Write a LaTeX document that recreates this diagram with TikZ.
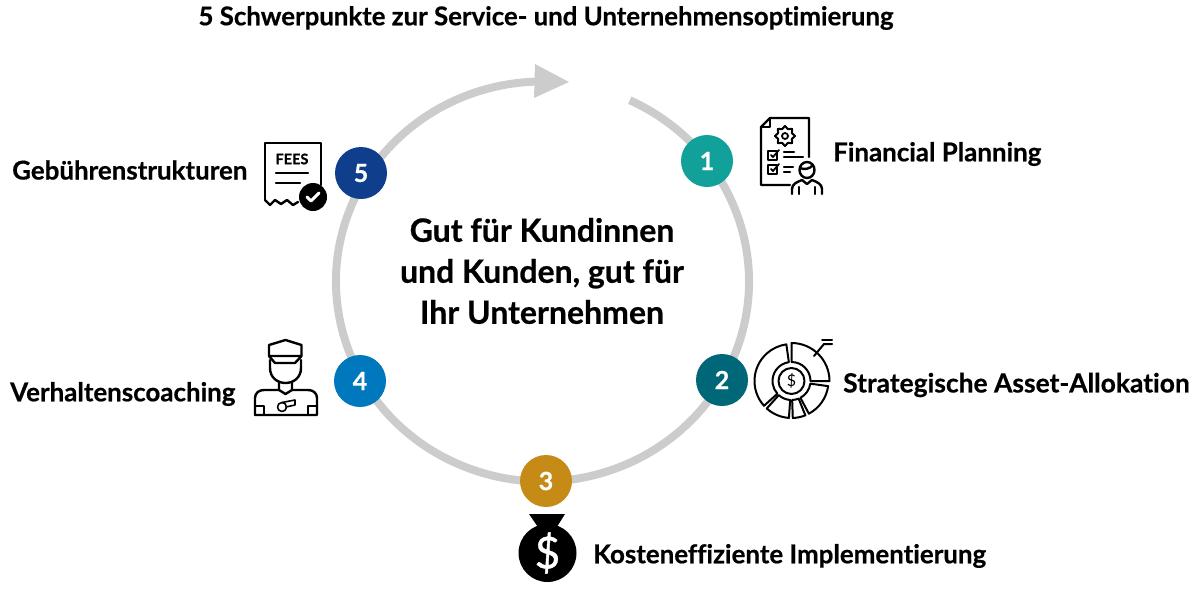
\documentclass[tikz,border=0pt]{standalone}
\usepackage{fontspec}
\setmainfont{Lato}[Ligatures=NoCommon, BoldFeatures={FakeBold=0.6}]
\newfontfamily\dollarfont{Lato}[FakeBold=1]
\newcommand{\pxfont}[1]{\fontsize{#1}{#1}\selectfont\bfseries}
\newcommand{\sectorpath}[4]{(#1:#3) -- (#1:#4) arc[start angle=#1, end angle=#2, radius=#4] -- (#2:#3) arc[start angle=#2, end angle=#1, radius=#3] -- cycle}
\definecolor{ringgray}{HTML}{CCCCCC}
\definecolor{stepteal}{HTML}{12A19A}
\definecolor{steppetrol}{HTML}{006778}
\definecolor{stepgold}{HTML}{C68B17}
\definecolor{stepblue}{HTML}{0078BE}
\definecolor{stepnavy}{HTML}{0F3E8C}
\tikzset{
    stepdot/.style={circle, minimum size=52pt, inner sep=0pt, text=white, font=\pxfont{25}},
    label/.style={anchor=west, inner sep=0pt, text=black, font=\pxfont{25.9}},
    icon/.style={line width=2.4pt, line join=round, line cap=round, black},
}
\begin{document}
\begin{tikzpicture}[x=1pt, y=-1pt]
    \useasboundingbox (0,0) rectangle (1200,600);

    % ring
    \draw[ringgray, line width=8pt] ([shift={(-65:206.5 and 200)}]542.5,281.5) arc[start angle=-65, end angle=268, x radius=206.5, y radius=200];
    \fill[ringgray] (535,64) -- (569,82) -- (534,98) -- cycle;

    \node[stepdot, fill=stepteal] (one) at (707,161) {1};
    \node[stepdot, fill=steppetrol] (two) at (722,380) {2};
    \node[stepdot, fill=stepgold] (three) at (546,481) {3};
    \node[stepdot, fill=stepblue] (four) at (360,381) {4};
    \node[stepdot, fill=stepnavy] (five) at (361,173) {5};

    \node[inner sep=0pt, font=\pxfont{25.8}] (title) at (546,18) {5 Schwerpunkte zur Service- und Unternehmensoptimierung};
    \node[inner sep=0pt, align=center, font=\fontsize{32}{41}\selectfont\bfseries] (middle) at (542,271) {Gut für Kundinnen\\und Kunden, gut für\\Ihr Unternehmen};

    \node[label] (planning) at (833,154) {Financial Planning};
    \node[label, font=\pxfont{26.4}] (asset) at (843,385) {Strategische Asset-Allokation};
    \node[label] (kosten) at (593,556) {Kosteneffiziente Implementierung};
    \node[label] (coaching) at (10,394) {Verhaltenscoaching};
    \node[label] (fees) at (12,170) {Gebührenstrukturen};

    % planning icon
    \draw[icon] (790,185) -- (761,185) -- (761,127) -- (770,118) -- (809,118) -- (809,157);
    \draw[icon] (770,118) -- (770,127) -- (761,127);
    \begin{scope}[shift={(785,136)}]
        \draw[icon, line width=2pt] (0:10) \foreach \a in {22.5,45,...,337.5} {-- (\a:{mod(\a,45)==0 ? 10 : 7.5})} -- cycle;
        \draw[icon, line width=1.8pt] (0,0) circle (3);
    \end{scope}
    \draw[icon] (768,151) rectangle (777,160);
    \draw[icon] (768,165) rectangle (777,174);
    \draw[icon, line width=1.8pt] (771,155) -- (773,157) -- (779,150);
    \draw[icon, line width=1.8pt] (771,169) -- (773,171) -- (779,164);
    \draw[icon] (784,152) -- (794,152);
    \draw[icon] (784,157) -- (803,157);
    \draw[icon] (784,167) -- (793,167);
    \draw[icon] (784,172) -- (790,172);
    \draw[icon] (807,170) ellipse (7.5 and 8);
    \draw[icon] (800,168) .. controls (804,170) and (810,169) .. (813,165);
    \draw[icon] (792,194) -- (792,189) .. controls (792,184) and (797,182) .. (802,180) -- (807,184) -- (812,180) .. controls (817,182) and (822,184) .. (822,189) -- (822,194);
    \draw[icon] (799,187) -- (799,194);
    \draw[icon] (815,187) -- (815,194);

    % allocation icon
    \begin{scope}[shift={(791.5,381)}]
        \draw[icon, line width=2pt] (0,0) circle (13);
        \node[inner sep=0pt, font=\fontsize{16}{16}\selectfont] (dollarsmall) at (0,0) {\$};
        \draw[icon, line width=2pt] \sectorpath{-90}{0}{19}{38};
        \draw[icon, line width=2pt] \sectorpath{8}{62}{19}{37};
        \draw[icon, line width=2pt] \sectorpath{68}{88}{19}{37};
        \draw[icon, line width=2pt] \sectorpath{94}{132}{19}{37};
        \draw[icon, line width=2pt] \sectorpath{138}{262}{19}{37};
    \end{scope}
    \draw[icon, line width=2pt] (814,356) -- (824,344) -- (832,344);
    \draw[icon, line width=2pt] (822,340) -- (832,340);

    % whistle icon
    \draw[icon] (269,345) -- (285.5,340) -- (301.5,345) -- (301.5,356) -- (269,356) -- cycle;
    \draw[icon] (269,356) -- (275,363) -- (295,363) -- (301.5,356);
    \draw[icon] (270,360) -- (270,368) .. controls (270,378) and (278,383) .. (285.5,383) .. controls (293,383) and (301,378) .. (301,368) -- (301,360);
    \draw[icon] (279,382) -- (279,390) -- (285.5,394) -- (292,390) -- (292,382);
    \draw[icon] (255,415) -- (255,398) .. controls (255,393) and (259,390) .. (264,390) -- (279,390);
    \draw[icon] (292,390) -- (308,390) .. controls (313,390) and (317,393) .. (317,398) -- (317,415) -- (255,415);
    \draw[icon] (255,406) -- (264,406) -- (264,415);
    \draw[icon] (317,406) -- (308,406) -- (308,415);
    \draw[icon, line width=1.6pt] (282,407) circle (4.5);
    \draw[icon, line width=1.6pt] (282,402.5) -- (295,400) -- (295,405) -- (286,407);

    % fee icon
    \draw[icon] (265,200) -- (265,143) -- (321,143) -- (321,185);
    \draw[icon] (265,200) -- (270,205) -- (275,200) -- (281,204) -- (287,200) -- (293,205) -- (298,202);
    \node[inner sep=0pt, font=\pxfont{14.5}] (feestext) at (292,159) {FEES};
    \draw[icon] (276,173) -- (308,173);
    \draw[icon] (276,183) -- (300,183);
    \fill[black] (313,197) circle (14);
    \draw[white, line width=3pt, line cap=round, line join=round] (307,197) -- (311,201) -- (319,193);

    % money bag icon
    \fill[black] (529,514) -- (565,514) -- (555,530) -- (540,530) -- cycle;
    \fill[black] (547.5,553) circle (29);
    \node[inner sep=0pt, text=white, font=\fontsize{44}{44}\selectfont\dollarfont] (dollarbig) at (547.5,553) {\$};
\end{tikzpicture}
\end{document}
